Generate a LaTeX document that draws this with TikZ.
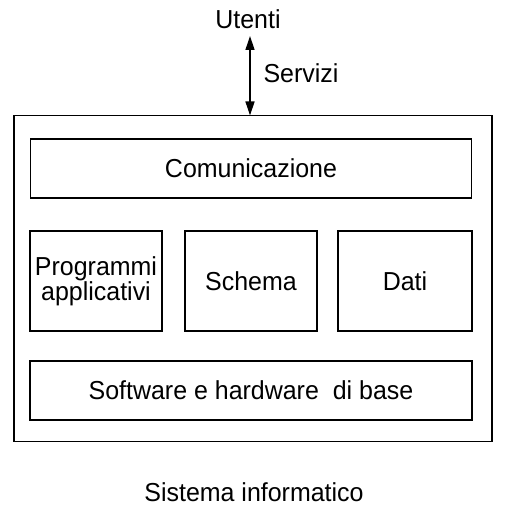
\documentclass[tikz,border=0pt]{standalone}
\usepackage{fontspec}
\setmainfont[FakeStretch=0.96]{Liberation Sans}
\usetikzlibrary{arrows.meta}
\begin{document}
\begin{tikzpicture}[x=1pt,y=-1pt,
  lbl/.style={font=\fontsize{26}{24}\selectfont, inner sep=0pt},
  layer/.style={draw, line width=1.4pt, inner sep=0pt, font=\fontsize{26}{24}\selectfont, align=center}]
\useasboundingbox (0,0) rectangle (507,518);
\draw[line width=1.2pt] (14,115.5) rectangle (492,441.5);
\node[layer, minimum width=441pt, minimum height=59pt] (com) at (251,168.5) {Comunicazione};
\node[layer, minimum width=132pt, minimum height=100pt] (prog) at (96,281) {Programmi\\applicativi};
\node[layer, minimum width=132pt, minimum height=100pt] (sch) at (251,281) {Schema};
\node[layer, minimum width=134pt, minimum height=100pt] (dati) at (405,281) {Dati};
\node[layer, minimum width=442pt, minimum height=59pt] (sw) at (251,390.5) {Software e hardware\ \ di base};
\node[lbl] (ut) at (248,19) {Utenti};
\coordinate (top) at (250,115.5);
\draw[line width=1.3pt, {Triangle[length=14pt,width=9pt]}-{Triangle[length=14pt,width=9pt]}] (250,36) -- (top);
\node[lbl] (serv) at (301,73) {Servizi};
\node[lbl] (sis) at (254,492) {Sistema\ informatico};
\end{tikzpicture}
\end{document}
